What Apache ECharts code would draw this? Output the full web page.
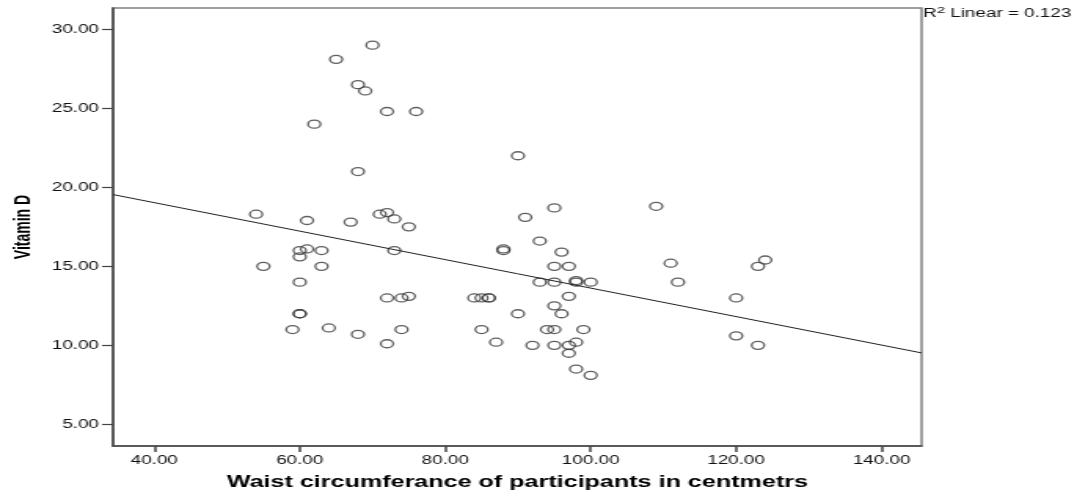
<!DOCTYPE html>
<html>
<head>
<meta charset="utf-8">
<script src="https://cdn.jsdelivr.net/npm/echarts@6/dist/echarts.min.js"></script>
<style>
  html, body { margin: 0; padding: 0; background: #fff; overflow: hidden; }
  /* the source picture is stretched sideways, so the chart is too */
  #chart { width: 684px; height: 497px; transform: scaleX(1.57); transform-origin: 0 0; }
</style>
</head>
<body>
<div id="chart"></div>
<script>
// waist circumference (cm) and vitamin D of each participant
var waist = [
  54, 55, 65, 70, 68, 69, 72, 76, 62, 90,
  68, 61, 67, 71, 72, 73, 75, 91, 95, 109,
  93, 88, 88, 96, 60, 61, 63, 60, 63, 60,
  73, 95, 97, 93, 95, 98, 98, 100, 97, 95,
  96, 90, 60, 60, 72, 74, 75, 84, 85, 86,
  86, 59, 64, 68, 74, 72, 85, 87, 92, 94,
  95, 95, 97, 98, 97, 98, 100, 99, 111, 112,
  123, 124, 120, 120, 123
];
var vitaminD = [
  18.3, 15.0, 28.1, 29.0, 26.5, 26.1, 24.8, 24.8, 24.0, 22.0,
  21.0, 17.9, 17.8, 18.3, 18.4, 18.0, 17.5, 18.1, 18.7, 18.8,
  16.6, 16.1, 16.0, 15.9, 16.0, 16.1, 16.0, 15.6, 15.0, 14.0,
  16.0, 15.0, 15.0, 14.0, 14.0, 14.1, 14.0, 14.0, 13.1, 12.5,
  12.0, 12.0, 12.0, 12.0, 13.0, 13.0, 13.1, 13.0, 13.0, 13.0,
  13.0, 11.0, 11.1, 10.7, 11.0, 10.1, 11.0, 10.2, 10.0, 11.0,
  11.0, 10.0, 10.0, 10.2, 9.5, 8.5, 8.1, 11.0, 15.2, 14.0,
  15.0, 15.4, 13.0, 10.6, 10.0
];
var xTicks = [40, 60, 80, 100, 120, 140];
var yTicks = [5, 10, 15, 20, 25, 30];
var xRange = [34.33, 145.5];
var yRange = [3.63, 31.35];
var r2Text = 'Linear = 0.123';

var points = waist.map(function (w, i) { return [w, vitaminD[i]]; });

// least squares fit line
var n = points.length, sx = 0, sy = 0, sxx = 0, sxy = 0;
points.forEach(function (p) {
  sx += p[0]; sy += p[1]; sxx += p[0] * p[0]; sxy += p[0] * p[1];
});
var slope = (n * sxy - sx * sy) / (n * sxx - sx * sx);
var icpt = (sy - slope * sx) / n;
var fitLine = xRange.map(function (x) { return [x, icpt + slope * x]; });

var font = "'Liberation Sans', Arial, sans-serif";
var chart = echarts.init(document.getElementById('chart'));
chart.setOption({
  animation: false,
  backgroundColor: '#fff',
  grid: {
    left: 71, right: 97, top: 8, bottom: 51,
    show: true, borderColor: '#808080', borderWidth: 1.5
  },
  graphic: [{
    type: 'text',
    left: 588, top: 5,
    style: {
      text: '{r|R}{s|2}{r| ' + r2Text + '}',
      rich: {
        r: { fontFamily: font, fontSize: 12, fill: '#111', verticalAlign: 'bottom', height: 15 },
        s: { fontFamily: font, fontSize: 9.5, fill: '#111', verticalAlign: 'top', height: 15, padding: [0, 0, 4, 0] }
      }
    }
  }],
  xAxis: {
    type: 'value',
    min: xRange[0], max: xRange[1],
    name: 'Waist circumferance of participants in centmetrs',
    nameLocation: 'middle', nameGap: 29,
    nameTextStyle: { fontFamily: font, fontSize: 16, fontWeight: 'bold', color: '#000' },
    axisLine: { show: true, onZero: false, lineStyle: { color: '#444', width: 1.5 } },
    axisTick: { show: true, length: 6, customValues: xTicks, lineStyle: { color: '#444', width: 1.5 } },
    axisLabel: {
      customValues: xTicks, margin: 9,
      fontFamily: font, fontSize: 12, color: '#111',
      formatter: function (v) { return v.toFixed(2); }
    },
    splitLine: { show: false }
  },
  yAxis: {
    type: 'value',
    min: yRange[0], max: yRange[1],
    name: 'Vitamin D',
    nameLocation: 'middle', nameGap: 50,
    nameTextStyle: { fontFamily: font, fontSize: 14, fontWeight: 'bold', color: '#000' },
    axisLine: { show: true, onZero: false, lineStyle: { color: '#444', width: 1.5 } },
    axisTick: { show: true, length: 7, customValues: yTicks, lineStyle: { color: '#444', width: 1.2 } },
    axisLabel: {
      customValues: yTicks, margin: 9,
      fontFamily: font, fontSize: 12, color: '#111',
      formatter: function (v) { return v.toFixed(2); }
    },
    splitLine: { show: false }
  },
  series: [
    {
      type: 'line',
      data: fitLine,
      symbol: 'none',
      silent: true,
      lineStyle: { color: '#222', width: 1 }
    },
    {
      type: 'scatter',
      data: points,
      symbol: 'circle',
      symbolSize: 8,
      itemStyle: { color: 'rgba(0,0,0,0)', borderColor: '#383838', borderWidth: 1.3 }
    }
  ]
});
</script>
</body>
</html>
